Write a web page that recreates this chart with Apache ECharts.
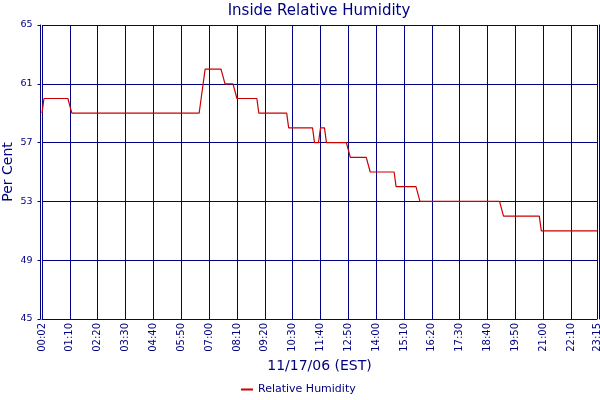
<!DOCTYPE html>
<html>
<head>
<meta charset="utf-8">
<script src="https://cdn.jsdelivr.net/npm/echarts@6/dist/echarts.min.js"></script>
<style>html,body{margin:0;padding:0;background:#fff}#c{width:600px;height:400px}</style>
</head>
<body>
<div id="c"></div>
<script>
// Time categories: first reading 00:02, then every 5 minutes up to 23:15
const firstTime = '00:02';
const lastMinute = 23 * 60 + 15;
const stepMinutes = 5;
const categories = [firstTime];
for (let m = stepMinutes; m <= lastMinute; m += stepMinutes) {
  categories.push(String(Math.floor(m / 60)).padStart(2, '0') + ':' + String(m % 60).padStart(2, '0'));
}
const labelEvery = 14; // 70 minutes between labelled ticks

// Relative humidity readings (%), one per category
const humidity = [
  59,60,60,60,60,60,60,60,60,60,
  60,60,60,60,60,59,59,59,59,59,
  59,59,59,59,59,59,59,59,59,59,
  59,59,59,59,59,59,59,59,59,59,
  59,59,59,59,59,59,59,59,59,59,
  59,59,59,59,59,59,59,59,59,59,
  59,59,59,59,59,59,59,59,59,59,
  59,59,59,59,59,59,59,59,59,59,
  60,61,62,62,62,62,62,62,62,62,
  62,62,61,61,61,61,61,61,60,60,
  60,60,60,60,60,60,60,60,60,59,
  59,59,59,59,59,59,59,59,59,59,
  59,59,59,59,58,58,58,58,58,58,
  58,58,58,58,58,58,58,57,57,57,
  58,58,58,57,57,57,57,57,57,57,
  57,57,57,57,57,56,56,56,56,56,
  56,56,56,56,56,55,55,55,55,55,
  55,55,55,55,55,55,55,55,54,54,
  54,54,54,54,54,54,54,54,54,54,
  53,53,53,53,53,53,53,53,53,53,
  53,53,53,53,53,53,53,53,53,53,
  53,53,53,53,53,53,53,53,53,53,
  53,53,53,53,53,53,53,53,53,53,
  53,53,52,52,52,52,52,52,52,52,
  52,52,52,52,52,52,52,52,52,52,
  52,51,51,51,51,51,51,51,51,51,
  51,51,51,51,51,51,51,51,51,51,
  51,51,51,51,51,51,51,51,51,51
];

const yMin = 45, yMax = 65, yStep = 4;
const navy = '#000080';
const red = '#cc0000';
const font = 'DejaVu Sans';

const lastIdx = categories.length - 1;
const showTick = (i) => i % labelEvery === 0 || i === lastIdx;

const chart = echarts.init(document.getElementById('c'), null, {renderer: 'canvas'});
chart.setOption({
  animation: false,
  backgroundColor: '#ffffff',
  title: {
    text: 'Inside Relative Humidity',
    left: 319,
    textAlign: 'center',
    top: 4,
    padding: 0,
    textStyle: {color: navy, fontFamily: font, fontSize: 15, fontWeight: 'normal'}
  },
  legend: {
    data: ['Relative Humidity'],
    left: 241,
    top: 384,
    padding: 0,
    icon: 'rect',
    itemWidth: 12,
    itemHeight: 2,
    textStyle: {color: navy, fontFamily: font, fontSize: 11}
  },
  grid: {left: 42, right: 3, top: 25, bottom: 81, containLabel: false, outerBoundsMode: 'none'},
  xAxis: {
    type: 'category',
    data: categories,
    boundaryGap: false,
    name: '11/17/06 (EST)',
    nameLocation: 'middle',
    nameGap: 40,
    nameMoveOverlap: false,
    nameTextStyle: {color: navy, fontFamily: font, fontSize: 14},
    axisLine: {show: true, lineStyle: {color: navy, width: 1}},
    axisTick: {show: false},
    axisLabel: {
      rotate: 90, margin: 4, interval: (i) => showTick(i),
      color: navy, fontFamily: font, fontSize: 10
    },
    splitLine: {show: true, interval: (i) => showTick(i), lineStyle: {color: navy, width: 1}}
  },
  yAxis: [{
    type: 'value',
    min: yMin, max: yMax, interval: yStep,
    offset: 1.5,
    name: 'Per Cent',
    nameLocation: 'middle',
    nameGap: 25,
    nameMoveOverlap: false,
    nameTextStyle: {color: navy, fontFamily: font, fontSize: 14},
    axisLine: {show: true, lineStyle: {color: navy, width: 1}},
    axisTick: {show: true, length: 3, lineStyle: {color: navy}},
    axisLabel: {margin: 8, color: navy, fontFamily: font, fontSize: 9.5},
    splitLine: {show: true, lineStyle: {color: navy, width: 1}}
  }, {
    type: 'value',
    position: 'right',
    min: yMin, max: yMax, interval: yStep,
    offset: 2,
    axisLine: {show: true, lineStyle: {color: navy, width: 1}},
    axisTick: {show: false},
    axisLabel: {show: false},
    splitLine: {show: false}
  }],
  series: [{
    name: 'Relative Humidity',
    type: 'line',
    data: humidity,
    showSymbol: false,
    symbol: 'none',
    lineStyle: {color: red, width: 1.2},
    itemStyle: {color: red}
  }]
});
</script>
</body>
</html>
